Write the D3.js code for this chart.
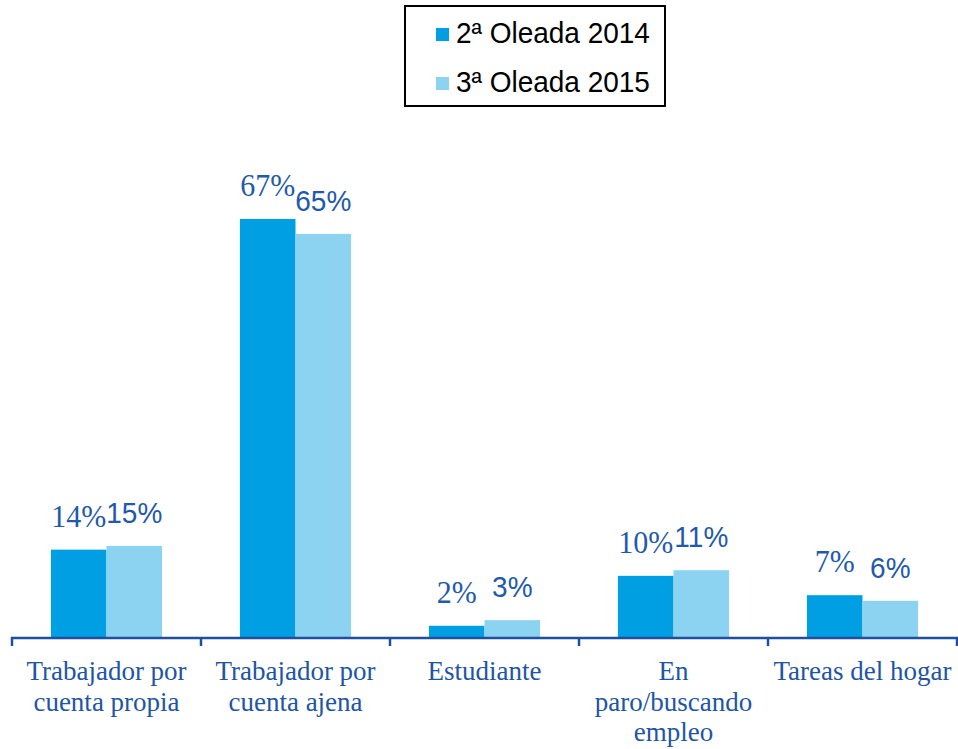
<!DOCTYPE html>
<html lang="es">
<head>
  <meta charset="UTF-8" />
  <title>Situación laboral</title>
  <style>
    body { margin: 0; padding: 0; background: #fff; }
    svg { display: block; }
    .cat { font-family: "Liberation Serif", "Times New Roman", serif; fill: #2155a3; }
    .lab-serif { font-family: "Liberation Serif", "Times New Roman", serif; fill: #1f5aab; }
    .lab-sans { font-family: "Liberation Sans", Arial, sans-serif; fill: #1f5aab; }
    .legend text { font-family: "Liberation Sans", Arial, sans-serif; fill: #000; }
  </style>
</head>
<body>
  <svg id="chart"></svg>

  <script src="https://d3js.org/d3.v7.min.js"></script>
  <script>
    // data
    const categories = [
      "Trabajador por cuenta propia",
      "Trabajador por cuenta ajena",
      "Estudiante",
      "En paro/buscando empleo",
      "Tareas del hogar"
    ];
    const categoryLines = [
      ["Trabajador por", "cuenta propia"],
      ["Trabajador por", "cuenta ajena"],
      ["Estudiante"],
      ["En", "paro/buscando", "empleo"],
      ["Tareas del hogar"]
    ];
    const seriesNames = ["2ª Oleada 2014", "3ª Oleada 2015"];
    const wave2014 = [14, 67, 1.8, 9.8, 6.7];
    const wave2015 = [14.6, 64.6, 2.7, 10.7, 5.8];
    const seriesColors = ["#009fe3", "#8cd3f2"];

    const width = 958, height = 749;
    const svg = d3.select("#chart").attr("width", width).attr("height", height);

    const baseY = 637;
    const x0 = d3.scaleBand().domain(categories).range([12, 957]).padding(0);
    const x1 = d3.scaleBand().domain(seriesNames).range([0, x0.bandwidth()]).paddingInner(0).paddingOuter(0.7);
    const y = d3.scaleLinear().domain([0, 100]).range([baseY, 13]);

    const rows = categories.map((c, i) => ({
      cat: c,
      values: [wave2014[i], wave2015[i]]
    }));

    // bars
    const groups = svg.selectAll("g.cat-group")
      .data(rows)
      .join("g")
      .attr("class", "cat-group")
      .attr("transform", d => `translate(${x0(d.cat)},0)`);

    groups.selectAll("rect")
      .data(d => d.values.map((v, j) => ({ name: seriesNames[j], v, j })))
      .join("rect")
      .attr("x", d => x1(d.name))
      .attr("y", d => y(d.v))
      .attr("width", x1.bandwidth())
      .attr("height", d => baseY - y(d.v))
      .attr("fill", d => seriesColors[d.j]);

    // value labels: first series in serif, second in sans (as in the original)
    groups.selectAll("text.val")
      .data(d => d.values.map((v, j) => ({ name: seriesNames[j], v, j })))
      .join("text")
      .attr("class", d => "val " + (d.j === 0 ? "lab-serif" : "lab-sans"))
      .attr("transform", d => `translate(${x1(d.name) + x1.bandwidth() / 2},${y(d.v) - 23}) scale(1,1.08)`)
      .attr("text-anchor", "middle")
      .attr("font-size", d => d.j === 0 ? 30 : 28)
      .text(d => Math.round(d.v) + "%");

    // x axis
    const axisColor = "#1f50a0";
    svg.append("line")
      .attr("x1", 11).attr("x2", 958)
      .attr("y1", baseY + 1).attr("y2", baseY + 1)
      .attr("stroke", axisColor).attr("stroke-width", 2.5);

    const tickXs = categories.map(c => x0(c)).concat([x0(categories[categories.length - 1]) + x0.bandwidth()]);
    svg.selectAll("line.tick")
      .data(tickXs)
      .join("line")
      .attr("class", "tick")
      .attr("x1", d => d).attr("x2", d => d)
      .attr("y1", baseY).attr("y2", baseY + 9)
      .attr("stroke", axisColor).attr("stroke-width", 2.5);

    // category labels
    const catText = svg.selectAll("text.cat")
      .data(categories)
      .join("text")
      .attr("class", "cat")
      .attr("text-anchor", "middle")
      .attr("font-size", 27)
      .attr("transform", d => `translate(${x0(d) + x0.bandwidth() / 2},0)`);

    catText.selectAll("tspan")
      .data((d, i) => categoryLines[i])
      .join("tspan")
      .attr("x", 0)
      .attr("y", (d, k) => 680 + k * 30.5)
      .text(d => d);

    // legend
    const legend = svg.append("g").attr("class", "legend");
    legend.append("rect")
      .attr("x", 405).attr("y", 6)
      .attr("width", 260).attr("height", 100)
      .attr("fill", "#fff").attr("stroke", "#000").attr("stroke-width", 2);

    const items = legend.selectAll("g.item")
      .data(seriesNames)
      .join("g")
      .attr("class", "item")
      .attr("transform", (d, i) => `translate(436,${28 + i * 49})`);

    items.append("rect")
      .attr("width", 13).attr("height", 13)
      .attr("fill", (d, i) => seriesColors[i]);

    items.append("text")
      .attr("transform", "translate(20,15) scale(1,1.05)")
      .attr("font-size", 28)
      .text(d => d);
  </script>
</body>
</html>
